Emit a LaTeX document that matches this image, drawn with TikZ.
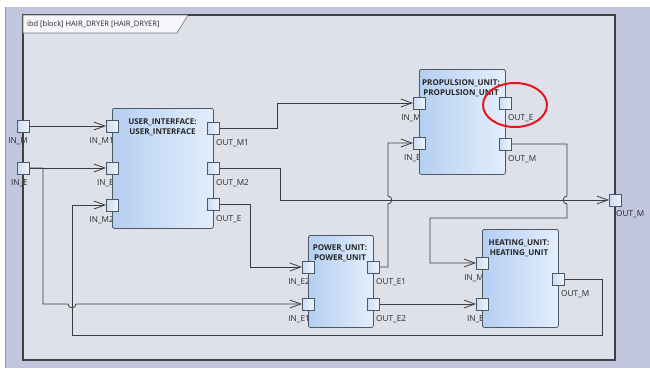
\documentclass[tikz,border=0pt]{standalone}
\usepackage{fontspec}
\setmainfont{Open Sans}
\usetikzlibrary{arrows.meta}
\definecolor{bgl}{HTML}{C1C6DE}
\definecolor{frm}{HTML}{DFE1EA}
\definecolor{tabc}{HTML}{F6F6FA}
\definecolor{lnc}{HTML}{3C3C3C}
\definecolor{blkL}{HTML}{B4CFF2}
\definecolor{blkR}{HTML}{E4EEFB}
\definecolor{prtL}{HTML}{C9DCF5}
\definecolor{prtR}{HTML}{EEF4FC}
\definecolor{brd}{HTML}{4E5864}
\definecolor{redc}{HTML}{E8151B}
\begin{document}
\begin{tikzpicture}[x=1pt,y=-1pt,
  conn/.style={draw=lnc, line width=0.8pt},
  arr/.style={conn, -{Straight Barb[length=11pt,width=8pt,line width=0.8pt]}},
  blk/.style={draw=brd, line width=0.8pt, rounded corners=2pt, left color=blkL, right color=blkR, anchor=north west, inner sep=0pt},
  port/.style={draw=brd, line width=0.7pt, left color=prtL, right color=prtR, minimum size=12pt, inner sep=0pt, outer sep=0pt},
  lab/.style={font=\fontsize{8.2}{9}\selectfont, inner sep=0pt, text=black!85},
  ttllab/.style={font=\fontsize{7.5}{9}\selectfont, inner sep=0pt, text=black!85},
  ttl/.style={font=\bfseries\fontsize{8}{10}\selectfont, align=center, inner sep=0pt, text=black!85, anchor=north}
]
\useasboundingbox (0,0) rectangle (650,368);
% background
\fill[white] (0,0) rectangle (650,368);
\fill[bgl] (5,7) rectangle (650,368);
\draw[black!40, line width=0.8pt] (5.5,7) -- (5.5,368);
% frame
\fill[frm] (23,15) rectangle (615,360);
% boundary labels
\node[lab, anchor=base east] (lInM) at (28,143.5) {IN\_M};
\node[lab, anchor=base east] (lInE) at (28,185.5) {IN\_E};
\node[lab, anchor=base west] (lOutM) at (616,216) {OUT\_M};
\draw[black!75, line width=1.2pt] (23,15) rectangle (615,360);
% title tab
\draw[fill=tabc, draw=black!55, line width=0.6pt] (23,15) -- (188,15) -- (177,33) -- (23,33) -- cycle;
\node[ttllab, anchor=west] (title) at (27,24.5) {ibd [block] HAIR\_DRYER [HAIR\_DRYER]};

% connectors
\draw[arr] (23,126) -- (106,126);
\draw[arr] (23,168) -- (106,168);
\draw[arr] (29,168) -- (43,168) -- (43,304) -- (68,304) .. controls (68,309) and (76,309) .. (76,304) -- (302,304);
\draw[arr] (219,128) -- (277,128) -- (277,103) -- (413,103);
\draw[arr] (219,168) -- (280,168) -- (280,200) -- (609,200);
\draw[arr] (219,204) -- (250,204) -- (250,267) -- (302,267);
\draw[arr] (379,267) -- (388,267) -- (388,204) .. controls (393,204) and (393,196) .. (388,196) -- (388,143) -- (413,143);
\draw[arr] (379,304) -- (476,304);
\draw[arr] (511,144) -- (567,144) -- (567,196) .. controls (562,196) and (562,204) .. (567,204) -- (567,218) -- (430,218) -- (430,263) -- (476,263);
\draw[arr] (564,279) -- (602,279) -- (602,335) -- (72,335) -- (72,205) -- (106,205);

% left labels (partly hidden by blocks)
\node[lab, anchor=base east] (lUiInM1) at (114,143.5) {IN\_M1};
\node[lab, anchor=base east] (lUiInE) at (114,185.5) {IN\_E};
\node[lab, anchor=base east] (lUiInM2) at (114,222.5) {IN\_M2};
\node[lab, anchor=base east] (lPrInM) at (421,120.5) {IN\_M};
\node[lab, anchor=base east] (lPrInE) at (421,160.5) {IN\_E};
\node[lab, anchor=base east] (lPoInE2) at (310,284.5) {IN\_E2};
\node[lab, anchor=base east] (lPoInE1) at (310,321.5) {IN\_E1};
\node[lab, anchor=base east] (lHeInM) at (484,280.5) {IN\_M};
\node[lab, anchor=base east] (lHeInE) at (484,321.5) {IN\_E};
% right labels
\node[lab, anchor=base west] (lUiOutM1) at (216,145.5) {OUT\_M1};
\node[lab, anchor=base west] (lUiOutM2) at (216,185.5) {OUT\_M2};
\node[lab, anchor=base west] (lUiOutE) at (216,221.5) {OUT\_E};
\node[lab, anchor=base west] (lPrOutE) at (508,120.5) {OUT\_E};
\node[lab, anchor=base west] (lPrOutM) at (508,161.5) {OUT\_M};
\node[lab, anchor=base west] (lPoOutE1) at (376,284.5) {OUT\_E1};
\node[lab, anchor=base west] (lPoOutE2) at (376,321.5) {OUT\_E2};
\node[lab, anchor=base west] (lHeOutM) at (561,296.5) {OUT\_M};

% blocks
\node[blk, minimum width=101pt, minimum height=120pt] (ui) at (112,108) {};
\node[blk, minimum width=86pt, minimum height=105pt] (prop) at (419,69) {};
\node[blk, minimum width=65pt, minimum height=92pt] (pow) at (308,235) {};
\node[blk, minimum width=76pt, minimum height=98pt] (heat) at (482,229) {};
\node[ttl] (uiT) at (162.5,118.5) {USER\_INTERFACE:\\USER\_INTERFACE};
\node[ttl] (propT) at (461,79.5) {PROPULSION\_UNIT:\\PROPULSION\_UNIT};
\node[ttl] (powT) at (340,244.5) {POWER\_UNIT:\\POWER\_UNIT};
\node[ttl] (heatT) at (519,239.5) {HEATING\_UNIT:\\HEATING\_UNIT};

% ports
\node[port] (inM) at (23,126) {};
\node[port] (inE) at (23,168) {};
\node[port] (outM) at (615,200) {};
\node[port] (uiInM1) at (112,126) {};
\node[port] (uiInE) at (112,168) {};
\node[port] (uiInM2) at (112,205) {};
\node[port] (uiOutM1) at (213,128) {};
\node[port] (uiOutM2) at (213,168) {};
\node[port] (uiOutE) at (213,204) {};
\node[port] (propInM) at (419,103) {};
\node[port] (propInE) at (419,143) {};
\node[port] (propOutE) at (505,103) {};
\node[port] (propOutM) at (505,144) {};
\node[port] (powInE2) at (308,267) {};
\node[port] (powInE1) at (308,304) {};
\node[port] (powOutE1) at (373,267) {};
\node[port] (powOutE2) at (373,304) {};
\node[port] (heatInM) at (482,263) {};
\node[port] (heatInE) at (482,304) {};
\node[port] (heatOutM) at (558,279) {};

% red highlight
\draw[redc, line width=2pt] (515,105) ellipse [x radius=32pt, y radius=22pt];
\end{tikzpicture}
\end{document}
